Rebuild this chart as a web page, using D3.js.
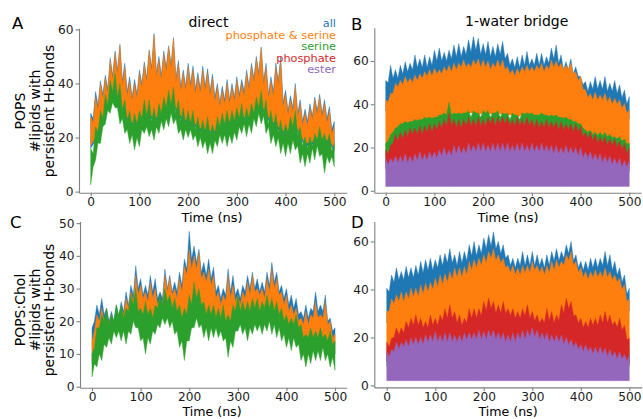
<!DOCTYPE html>
<html>
  <head>
    <meta charset="utf-8" />
    <title>persistent H-bonds</title>
    <style>
      body { margin: 0; background: #fff; }
      text { font-family: "DejaVu Sans", sans-serif; }
      .tick text { font-size: 12.2px; fill: #1a1a1a; }
      .domain, .tick line { stroke: #808080; stroke-width: 1.1; }
    </style>
  </head>
  <body>
    <div id="chart"></div>

    <script src="https://d3js.org/d3.v7.min.js"></script>
    <script>
      // time samples: every 10 ns, plus the in-between 5 ns points for the noisy edges
      var time = [0,10,20,30,40,50,60,70,80,90,100,110,120,130,140,150,160,170,180,190,200,
        210,220,230,240,250,260,270,280,290,300,310,320,330,340,350,360,370,380,390,400,
        410,420,430,440,450,460,470,480,490,500];
      var timeMid = [5,15,25,35,45,55,65,75,85,95,105,115,125,135,145,155,165,175,185,195,
        205,215,225,235,245,255,265,275,285,295,305,315,325,335,345,355,365,375,385,395,
        405,415,425,435,445,455,465,475,485,495];
      var timeTicks = [0, 100, 200, 300, 400, 500];
      var ticksA = [0, 20, 40, 60];
      var ticksB = [0, 20, 40, 60];
      var ticksC = [0, 10, 20, 30, 40, 50];
      var ticksD = [0, 20, 40, 60];

      var seriesNames = ["all", "phosphate & serine", "serine", "phosphate", "ester"];
      var seriesColors = ["#1f77b4", "#ff7f0e", "#2ca02c", "#d62728", "#9467bd"];

      // each series = band it covers: Hi/Lo at the 10 ns points, HiMid/LoMid at the 5 ns points

      // A: POPS, direct
      var aAllHi = [29,37,41,43,49.5,52,54.5,47.5,42.5,41.5,45,48,52.5,58.5,50,52,54,57,48.5,45,
        47.5,46.5,44,46.5,45.5,43.5,40,39,41.5,40,42.5,41.5,45,47.5,50,53.5,47.5,42.5,47.5,50,
        37.5,35.5,40,34,30.5,32.5,35,36,34,31.5,26];
      var aAllHiMid = [27,32,36,38,43,45,41,37,35,36,40,42,46,44,43,46,47,42,39,39,
        40,38,38,39,37,35,33,34,34,35,36,37,39,42,44,41,36,37,41,33,
        30,31,29,26,26,28,30,29,27,23];
      var aAllLo = [16,19,24,29,33,36,33,28,25,24,25,28,28,26,27,29,31,32,28,26,
        25,25,23,22,22,21,22,24,25,25,26,27,26,27,29,31,28,25,24,22,
        21,22,24,20,17,17,18,19,18,18,15];
      var aPsHi = [27.7,35,40,42,48.6,51,54,46,41,40,43.7,47,52,58,48.6,51,53.5,56.6,47,43.7,
        46,45,42.4,45,44,42,38.7,37.5,40,38.7,41,40,43.7,46,49,53,46,41,46,48.6,
        36,34,38.7,32.6,29,31,34,35,32.6,30,24];
      var aPsHiMid = [25.5,30.5,34.5,36.5,41.5,43.5,39.5,35.5,33.5,34.5,38.5,40.5,44.5,42.5,41.5,44.5,45.5,40.5,37.5,37.5,
        38.5,36.5,36.5,37.5,35.5,33.5,31.5,32.5,32.5,33.5,34.5,35.5,37.5,40.5,42.5,39.5,34.5,35.5,39.5,31.5,
        28.5,29.5,27.5,24.5,24.5,26.5,28.5,27.5,25.5,21.5];
      var aPsLo = [17,20,25,30,34,37,34,29,26,25,26,29,29,27,28,30,32,33,29,27,
        26,26,24,23,23,22,23,25,26,26,27,28,27,28,30,32,29,26,25,23,
        22,23,25,21,18,18,19,20,19,19,16];
      var aSerHi = [16,24,30,36,41,44,40,34,30,29,30,34,34,31,32.6,35,37.5,38.7,34,31,
        30,30,27.7,26.4,27.7,25,27.7,29,30,30,31,32.6,31,32.6,35,37.5,34,30,29,26.4,
        25,27.7,30,24,20.3,20.3,21.5,24,21.5,21.5,17.8];
      var aSerHiMid = [14,22,27,32,37,35,30,26,24,25,27,28,26,26,29,31,32,29,26,25,
        25,23,22,22,21,21,24,25,25,26,27,26,27,29,31,29,25,24,22,21,
        22,24,21,17,16,17,19,19,18,15];
      var aSerLo = [2.5,11.7,17.8,25,29,31,25,21.5,17.8,15.4,16.6,21.5,20.3,19,21.5,22.8,24,25,21.5,19,
        20,19,16.6,16,14,14,16.6,17.8,16.6,17.8,19,21.5,20.3,21.5,24,25,21.5,17.8,16.6,14,
        13,14,15.4,10.5,9.2,10.5,11.7,13,6.8,10.5,9.2];
      var aSerLoMid = [9,18,24,30,33,31,27,23,21,20,23,24,23,24,26,27,29,27,23,23,
        23,21,20,19,18,19,21,21,21,22,24,25,25,27,29,28,24,21,20,18,
        18,19,17,14,14,16,17,14,13,13];

      // B: POPS, 1-water bridge
      var bAllHi = [51,58,56,58,59.7,59,62.8,61,62.8,62,65,66,64,65,67.4,68,66.7,69.8,71.3,70.5,
        68,69,66.7,68,69,63.6,61,62,62.8,64.4,61,63.6,63.6,62,66,67.4,62.8,59.7,61,57.4,
        52.8,50.5,50.5,52.8,51,52.8,49.7,51,49,46.6,43.5];
      var bAllHiMid = [50,52,52,54,55,56,57,57,57,58,60,60,60,61,62,62,63,64,65,63,
        63,62,62,63,61,58,57,57,58,58,58,58,58,59,61,59,56,56,54,53,
        49,46,47,47,47,46,46,45,43,40];
      var bAllLo = [37,40,45,46,48,47,48,49,50,51,52,51,52,53,54,54,55,54,55,56,
        55,55,54,55,55,52,51,51,52,53,52,53,54,53,55,55,54,53,54,50,
        48,42,40,41,39,40,39,38,37,36,33];
      var bPsHi = [42,45,49.7,51,52.8,52,53.5,54,55,56,56.6,56,57.4,58,59,59,60.5,59,60.5,61,
        60.5,60,59,60.5,60.5,57.4,56,56.6,57.4,58,57.4,58,59,58,60.5,60,59,58,59,55,
        52.8,46.6,45,45.5,44.3,45,43.5,42.8,42,40.4,37.3];
      var bPsHiMid = [41,45,48,49,50,50,51,52,53,53,54,54,55,55,56,57,57,57,58,57,
        57,56,57,57,56,54,53,54,55,55,55,56,55,56,57,57,56,56,54,51,
        47,43,42,42,42,41,40,40,38,36];
      var bPsLo = [20,25,28,30,31,31,32,32,33,33,33,34,35,34,35,35,35,36,36,35,
        36,36,35,36,35,35,35,34,35,35,35,34,35,34,34,34,33,33,32,31,
        30,27,26,25,25,25,24,24,23,22,20];
      var bSerHi = [22,26,29,31,32,32,33,33,34,34,34,35,36,41,36,36,36,37,37,36,
        37,37,36,37,36,36,36,35,36,36,36,35,36,35,35,35,34,34,33,32,
        31,28,28,27,27,27,26,25,25,24,22];
      var bSerHiMid = [23,27,29.5,31,31.5,32,32.5,33,33.5,33.5,34,35,35,35,35.5,35.5,36,34,36,34,
        36,34,36,34,35.5,33,35,33,35.5,35.5,35,35,35,34.5,34.5,34,33.5,33,32,31,
        29,27,26,25.5,25.5,25,24.5,24,23,21.5];
      var bSerLo = [12,13,13,14,14,14,14,15,15,15,15,15,16,16,16,16,16,16,16,16,
        16,16,16,16,16,16,16,16,16,16,16,16,16,16,16,16,16,16,16,15,
        15,14,14,14,13,13,13,13,12,12,12];
      var bPhHi = [19,21,26,27,28,29,29,30,30,31,31,32,33,36,33,33,33,34,33,34,
        33,34,34,34,34,34,33,34,33,34,33,33,32,33,32,32,32,31,31,31,
        30,27,27,26,25,25,24,24,23,22,20];
      var bPhHiMid = [17,22,23,24,25,26,26,26,27,27,28,29,30,30,29,29,30,30,30,30,
        30,31,30,31,31,30,30,30,30,30,29,29,29,29,29,28,28,28,27,27,
        25,24,23,22,22,21,21,20,19,17];
      var bPhLo = [10,10,11,11,12,11,12,13,12,13,13,14,15,14,16,16,15,17,16,17,
        17,16,17,17,17,17,16,17,17,16,17,16,17,16,16,16,15,16,15,15,
        15,13,13,12,12,11,11,10,10,9,9];
      var bEstHi = [15,15,16,16,17,16,17,18,17,18,18,19,20,19,21,21,20,22,21,22,
        22,21,22,22,22,22,21,22,22,21,22,21,22,21,21,21,20,21,20,20,
        20,18,18,17,17,16,16,15,15,14,14];
      var bEstHiMid = [12,13,13,13,13,13,14,14,14,15,15,16,16,16,17,17,17,18,18,18,
        18,18,18,18,18,18,18,18,18,18,18,18,18,18,17,17,17,17,17,16,
        15,15,14,14,13,13,12,12,11,11];
      var bEstLo = [2,2,2,2,2,2,2,2,2,2,2,2,2,2,2,2,2,2,2,2,2,2,2,2,2,2,
        2,2,2,2,2,2,2,2,2,2,2,2,2,2,2,2,2,2,2,2,2,2,2,2,2];

      // C: POPS:Chol, direct
      var cAllHi = [18,25,27,24,23,25,26,29,31,37,33,31,34,33,29,36,34,32,35,39,
        47.5,43,42,38,39,36.5,31,30,36,34,30,31,34,35,33,32,35,38,35,31,
        30,28,27,23,25,24,29,25,28,21,18];
      var cAllHiMid = [20,22,22,20,20,21,23,25,28,30,28,28,29,27,27,30,29,29,31,36,
        39,38,35,34,33,29,27,28,29,28,27,29,30,30,29,29,31,32,29,27,
        25,24,22,21,21,23,23,23,20,17];
      var cAllLo = [7,12,15,17,16,18,17,17,20,22,18,19,18,19,21,23,21,20,19,18,
        21,24,23,20,19,19,18,19,17,19,21,20,20,21,21,20,22,21,20,18,
        17,16,17,14,12,13,13,14,12,13,10];
      var cPsHi = [14,22,24,22,22,23,24,27,29,34,31,29,32,30,27,34,33,30,33,37,
        42,40,41,35,36,34,29,28,34,31,28,29,32,34,30,30,33,36,33,29,
        28,25,24,21,23,22,26,22,26,20,16];
      var cPsHiMid = [17,20,20,19,19,20,22,24,26,28,27,26,27,25,25,29,28,27,29,34,
        36,36,33,32,31,27,25,26,27,26,25,27,28,29,28,27,29,30,28,25,
        23,22,20,19,19,21,21,21,19,15];
      var cPsLo = [8,13,16,18,17,19,18,18,21,23,19,20,19,20,22,24,22,21,20,19,
        22,25,24,21,20,20,19,20,18,20,22,21,21,22,22,21,23,22,21,19,
        18,17,18,15,13,14,14,15,13,14,11];
      var cSerHi = [10,18,22,24,22,25,25,24,28,30,24,26,24,25,28,30,28,27,25,24,
        28,32,30,26,25,25,24,25,22,25,28,26,26,27,27,26,28,27,26,24,
        22,21,22,19,16,18,17,18,16,17,14];
      var cSerHiMid = [12,18,20,19,20,22,21,23,25,23,22,22,21,24,25,26,24,23,21,22,
        25,27,25,22,22,21,21,20,20,23,23,23,23,24,23,24,24,23,22,20,
        19,19,18,15,15,15,15,15,14,13];
      var cSerLo = [3,6,8,12,13,15,14,13,16,18,14,10,13,16,18,19,18,16,12,8,
        14,18,18,15,14,15,15,14,9,12,17,16,14,16,17,16,17,16,15,14,
        12,11,12,8,6,7,8,8,8,6,5];
      var cSerLoMid = [7,10,13,15,17,17,17,17,20,18,15,15,17,19,21,21,20,17,14,14,
        18,21,19,18,18,18,17,15,14,17,19,18,18,19,19,19,20,19,18,16,
        15,15,13,10,10,11,11,12,10,9];

      // D: POPS:Chol, 1-water bridge
      var dAllHi = [40.5,46,49,47.5,49.6,49,50,51.7,52.4,53,52.4,54.4,55,57,54.4,55.8,55.8,58.6,60,58.6,
        61.4,62.8,64,60,58.6,54.4,53,53,55.8,54.4,55.8,54.4,53,54.4,55.8,57,55.8,58.6,60,54.4,
        51.7,51.7,53,53,53,55.8,54.4,51.7,49,46,40.5];
      var dAllHiMid = [39,43,44,44,45,45,46,47,48,48,49,50,51,51,50,51,52,54,54,55,
        57,58,57,55,53,50,49,50,50,50,50,50,49,50,52,52,53,55,52,49,
        48,48,49,49,50,50,48,46,43,38];
      var dAllLo = [26,31,33,34,34,35,35,37,37,38,40,41,41,42,44,44,45,47,47,48,
        49,51,52,49,48,45,45,44,45,45,47,45,45,45,47,47,47,49,51,47,
        44,42,42,43,42,44,42,41,40,37,31];
      var dPsHi = [30.8,36,37.8,39,39,40.5,40.5,42,42.6,43,44.7,46,46.5,47.5,49,49,49.6,51.7,52.4,53,
        54.4,55.8,57,54.4,53,50,50,49,50,50,51.7,50,49.6,50,51.7,52.4,51.7,54.4,55.8,51.7,
        49,47.5,47.5,48.2,47.5,49,47.5,46,44.7,42,36];
      var dPsHiMid = [31,34,35,35,36,37,37,38,39,40,41,42,43,44,45,45,46,48,49,50,
        51,53,52,51,49,47,46,46,47,47,48,47,46,47,48,49,50,52,50,47,
        45,44,45,45,45,45,44,43,40,35];
      var dPsLo = [12,14,17,18,20,21,22,22,21,22,22,23,25,26,24,23,22,25,25,25,
        28,29,28,27,28,25,25,24,25,26,24,23,22,25,24,23,26,29,28,23,
        22,21,22,22,23,24,23,21,22,19,14];
      var dSerHi = [13,14,18,19,21,23,24,23,21,24,23,24,27,28,25,24,23,27,27,27,
        30,31,30,28,30,27,27,25,27,28,25,24,23,27,25,24,28,31,30,24,
        23,21,23,23,24,25,24,26,23,20,14];
      var dSerLo = [8,8,9,9,10,10,10,10,10,10,11,11,11,11,11,11,11,11,11,11,
        11,11,11,11,11,11,11,11,11,11,11,11,11,11,11,11,11,11,11,11,
        10,10,10,10,10,10,9,9,9,9,8];
      var dPhHi = [18,19.7,24,24,26.7,28,29.4,28,26.7,29.4,28,29.4,32,33.6,30.7,29.4,28,32,32,32,
        35,36.4,35,33.6,35,32,32,30.8,32,33.6,30.8,29.4,28,32,30.8,29.4,33.6,36.4,35,29.4,
        28,26.7,28,28,29.4,30.8,29.4,26.7,28,25,19.7];
      var dPhHiMid = [16,20,21,22,24,25,25,24,24,25,25,27,28,28,26,25,26,28,28,29,
        31,32,30,30,30,29,28,28,29,28,27,26,26,27,26,27,30,32,29,26,
        24,24,25,25,26,26,25,24,23,19];
      var dPhLo = [10,11,13,13,14,15,15,15,16,16,17,16,17,17,16,16,17,17,17,18,
        17,18,18,17,17,16,17,17,18,18,19,18,17,17,16,16,16,15,14,13,
        12,12,11,11,11,11,10,10,10,9,9];
      var dEstHi = [14,15,18,18,19,19.7,20,20,21,21,22.5,21,22,22,21,21,22,22,22,23,
        22.5,23,23,22,22,21,22,22,23,23,24,23,22,22,21,21,21,20,19,18,
        17,17,16,16,16,15.5,15,14,14,13,12.8];
      var dEstHiMid = [12,14,15,16,16,17,17,17,18,18,18,18,18,18,18,18,19,19,19,19,
        19,20,19,19,18,18,18,19,19,20,20,19,19,18,18,18,17,17,16,15,
        14,14,13,13,13,12,12,11,11,10];
      var dEstLo = [2,2,2,2,2,2,2,2,2,2,2,2,2,2,2,2,2,2,2,2,2,2,2,2,2,2,
        2,2,2,2,2,2,2,2,2,2,2,2,2,2,2,2,2,2,2,2,2,2,2,2,2];

      var svg = d3
        .select("#chart")
        .append("svg")
        .attr("width", 643)
        .attr("height", 419);

      // band = [lo, hi, colour index, hiMid, loMid]
      var panels = [
        { xDomain: [-24, 525.5], xRange: [79, 346.7], yDomain: [-0.4, 60.4], yRange: [192.7, 28.3], yTicks: ticksA,
          bands: [[aAllLo, aAllHi, 0, aAllHiMid], [aPsLo, aPsHi, 1, aPsHiMid], [aSerLo, aSerHi, 2, aSerHiMid, aSerLoMid]] },
        { xDomain: [-23.4, 524], xRange: [374.3, 641], yDomain: [-0.9, 75.4], yRange: [192.7, 27.7], yTicks: ticksB,
          bands: [[bAllLo, bAllHi, 0, bAllHiMid], [bPsLo, bPsHi, 1, bPsHiMid], [bSerLo, bSerHi, 2, bSerHiMid],
                  [bPhLo, bPhHi, 3, bPhHiMid], [bEstLo, bEstHi, 4, bEstHiMid]] },
        { xDomain: [-24.7, 524], xRange: [80, 346.7], yDomain: [-0.3, 50.5], yRange: [387.7, 221.5], yTicks: ticksC,
          bands: [[cAllLo, cAllHi, 0, cAllHiMid], [cPsLo, cPsHi, 1, cPsHiMid], [cSerLo, cSerHi, 2, cSerHiMid, cSerLoMid]] },
        { xDomain: [-25.6, 525.5], xRange: [374.3, 641.7], yDomain: [-0.8, 68.3], yRange: [387.4, 221.5], yTicks: ticksD,
          bands: [[dAllLo, dAllHi, 0, dAllHiMid], [dPsLo, dPsHi, 1, dPsHiMid], [dSerLo, dSerHi, 2],
                  [dPhLo, dPhHi, 3, dPhHiMid], [dEstLo, dEstHi, 4, dEstHiMid]] },
      ];

      // points of one edge, with the 5 ns values slotted in when there are any
      function edge(x, y, vals, mids) {
        var pts = [];
        time.forEach(function (t, i) {
          pts.push([x(t), y(vals[i])]);
          if (mids && i < timeMid.length) pts.push([x(timeMid[i]), y(mids[i])]);
        });
        return pts;
      }

      panels.forEach(function (p) {
        var x = d3.scaleLinear().domain(p.xDomain).range(p.xRange);
        var y = d3.scaleLinear().domain(p.yDomain).range(p.yRange);
        var g = svg.append("g");

        p.bands.forEach(function (b) {
          var top = edge(x, y, b[1], b[3]);
          var bottom = edge(x, y, b[0], b[4]).reverse();
          g.append("path")
            .attr("d", d3.line()(top.concat(bottom)) + "Z")
            .attr("fill", seriesColors[b[2]])
            .attr("stroke", seriesColors[b[2]])
            .attr("stroke-width", 0.6)
            .attr("stroke-opacity", 0.7)
            .attr("stroke-linejoin", "round");
        });

        g.append("g")
          .attr("transform", "translate(0," + p.yRange[0] + ")")
          .call(d3.axisBottom(x).tickValues(timeTicks).tickSize(3.5).tickPadding(1.5).tickSizeOuter(0));
        g.append("g")
          .attr("transform", "translate(" + p.xRange[0] + ",0)")
          .call(d3.axisLeft(y).tickValues(p.yTicks).tickSize(3.5).tickPadding(2).tickSizeOuter(0));
      });

      // panel letters
      [["A", 12, 29], ["B", 351, 30], ["C", 10, 227.5], ["D", 351, 227.5]].forEach(function (l) {
        svg.append("text").attr("x", l[1]).attr("y", l[2]).style("font-size", "16.5px").text(l[0]);
      });

      // column titles
      svg.append("text").attr("x", 208.5).attr("y", 27.3).attr("text-anchor", "middle")
        .style("font-size", "14px").text("direct");
      svg.append("text").attr("x", 516.7).attr("y", 26).attr("text-anchor", "middle")
        .style("font-size", "14px").text("1-water bridge");

      // legend as coloured labels
      seriesNames.forEach(function (name, i) {
        svg.append("text")
          .attr("x", 336)
          .attr("y", 27.3 + i * 11.5)
          .attr("text-anchor", "end")
          .attr("fill", seriesColors[i])
          .style("font-size", "11.3px")
          .text(name);
      });

      // x labels
      [[212, 221.5, 13], [508, 221.5, 13], [212, 416, 12.6], [508, 416, 12.6]].forEach(function (c) {
        svg.append("text").attr("x", c[0]).attr("y", c[1]).attr("text-anchor", "middle")
          .style("font-size", c[2] + "px").text("Time (ns)");
      });

      // y labels (three lines each)
      [["POPS", 111], ["POPS:Chol", 310]].forEach(function (c) {
        [c[0], "#lipids with", "persistent H-bonds"].forEach(function (line, i) {
          svg.append("text")
            .attr("transform", "translate(" + [24.5, 39.5, 54][i] + "," + c[1] + ") rotate(-90)")
            .attr("text-anchor", "middle")
            .style("font-size", "14px")
            .text(line);
        });
      });
    </script>
  </body>
</html>
